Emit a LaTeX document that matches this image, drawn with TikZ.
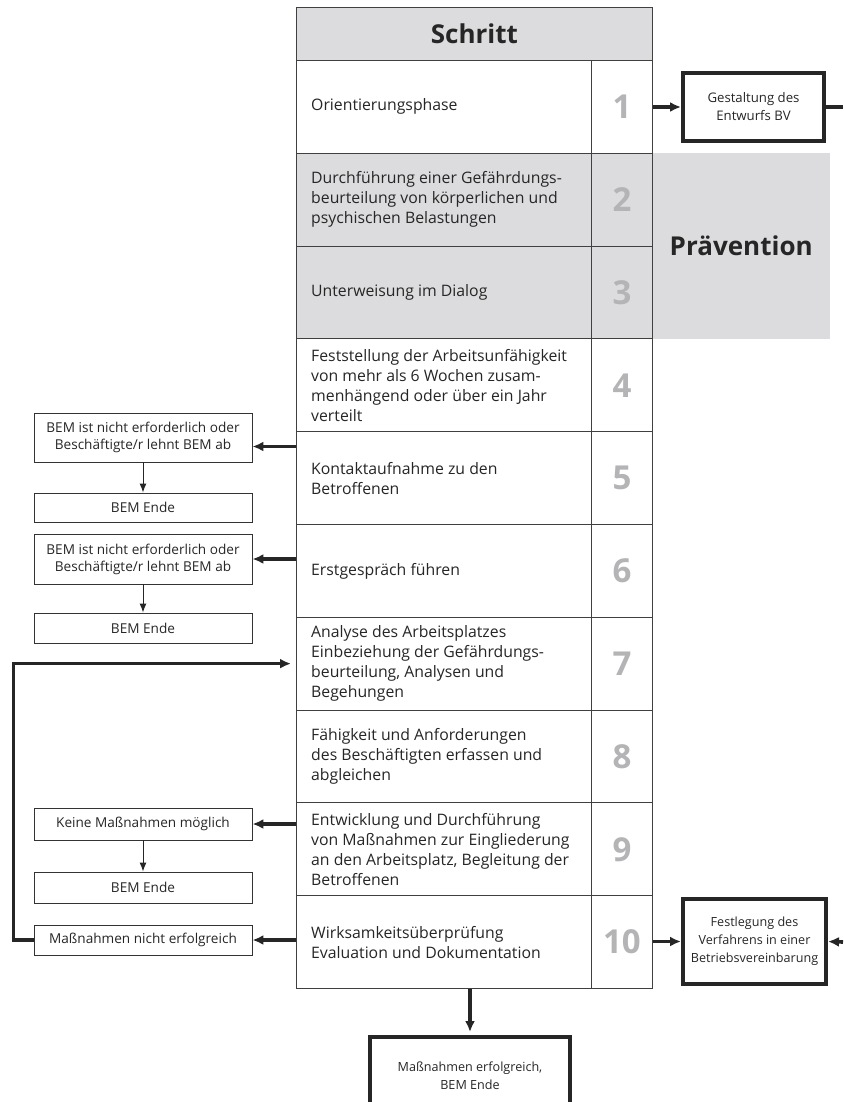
\documentclass[tikz,border=0pt]{standalone}
\usepackage{fontspec}
\setmainfont{Open Sans}
\usetikzlibrary{arrows.meta,positioning,calc}
\definecolor{kasten}{HTML}{DCDCDE}
\definecolor{ziffer}{HTML}{B4B4B6}

\begin{document}
\begin{tikzpicture}[
          x=1pt, y=-1pt,
          zelle/.style={draw=black!75, line width=0.9pt, minimum width=295pt, minimum height=92.8pt,
                        anchor=north west, inner sep=0pt},
          nummer/.style={draw=black!75, line width=0.9pt, minimum width=61pt, minimum height=92.8pt,
                         anchor=north west, inner sep=0pt, text=ziffer, font=\fontsize{33}{33}\selectfont\bfseries},
          txt/.style={align=left, inner sep=0pt, text=black!85, font=\fontsize{15.8}{20}\selectfont},
          seite/.style={draw=black!80, line width=0.9pt, minimum width=218pt, align=center, inner sep=2pt,
                        text=black!85, font=\fontsize{13.6}{17}\selectfont},
          dick/.style={draw=black!85, line width=4pt, align=center, text=black!85, font=\fontsize{12.6}{18}\selectfont},
          pf/.style={-{Latex[length=11pt,width=10pt]}, line width=3.6pt, draw=black!85},
          dpf/.style={-{Latex[length=9pt,width=7pt]}, line width=1pt, draw=black!85}
        ]
        \useasboundingbox (0,0) rectangle (843,1102);
        \clip (0,0) rectangle (843,1102);
        \node[fill=kasten, minimum width=178pt, minimum height=186pt, anchor=north west, inner sep=0pt,
              text=black!85, font=\fontsize{26}{26}\selectfont\bfseries] (praev) at (652,153) {Prävention};
        \node[zelle, fill=kasten, minimum width=356pt, minimum height=53pt, text=black!85,
              font=\fontsize{26}{26}\selectfont\bfseries] (kopf) at (296,7) {Schritt};
        \foreach \i/\f in {1/white,2/kasten,3/kasten,4/white,5/white,6/white,7/white,8/white,9/white,10/white} {
          \node[zelle, fill=\f] (z\i) at (296,{60+(\i-1)*92.8}) {};
          \node[nummer, fill=\f] (n\i) at (591,{60+(\i-1)*92.8}) {\i};
        }
        \node[txt, right=15pt of z1.west] (t1) {Orientierungsphase};
        \node[txt, right=15pt of z2.west] (t2) {Durchführung einer Gefährdungs-\\beurteilung von körperlichen und\\psychischen Belastungen};
        \node[txt, right=15pt of z3.west] (t3) {Unterweisung im Dialog};
        \node[txt, right=15pt of z4.west] (t4) {Feststellung der Arbeitsunfähigkeit\\von mehr als 6 Wochen zusam-\\menhängend oder über ein Jahr\\verteilt};
        \node[txt, right=15pt of z5.west] (t5) {Kontaktaufnahme zu den\\Betroffenen};
        \node[txt, right=15pt of z6.west] (t6) {Erstgespräch führen};
        \node[txt, right=15pt of z7.west] (t7) {Analyse des Arbeitsplatzes\\Einbeziehung der Gefährdungs-\\beurteilung, Analysen und\\Begehungen};
        \node[txt, right=15pt of z8.west] (t8) {Fähigkeit und Anforderungen\\des Beschäftigten erfassen und\\abgleichen};
        \node[txt, right=15pt of z9.west] (t9) {Entwicklung und Durchführung\\von Maßnahmen zur Eingliederung\\an den Arbeitsplatz, Begleitung der\\Betroffenen};
        \node[txt, right=15pt of z10.west] (t10) {Wirksamkeitsüberprüfung\\Evaluation und Dokumentation};
        \node[seite, minimum height=49pt] (a5) at (143,437.5) {BEM ist nicht erforderlich oder\\Beschäftigte/r lehnt BEM ab};
        \node[seite, minimum height=29pt] (e5) at (143,507.5) {BEM Ende};
        \node[seite, minimum height=50pt] (a6) at (143,559) {BEM ist nicht erforderlich oder\\Beschäftigte/r lehnt BEM ab};
        \node[seite, minimum height=30pt] (e6) at (143,628) {BEM Ende};
        \node[seite, minimum height=32pt] (k9) at (143,824) {Keine Maßnahmen möglich};
        \node[seite, minimum height=31pt] (e9) at (143,887.5) {BEM Ende};
        \node[seite, minimum height=30pt] (m10) at (143,940) {Maßnahmen nicht erfolgreich};
        \node[dick, minimum width=141pt, minimum height=68pt, font=\fontsize{13.2}{18}\selectfont] (bv) at (753.5,107) {Gestaltung des\\Entwurfs BV};
        \node[dick, minimum width=143pt, minimum height=85pt] (vf) at (754.5,941.5) {Festlegung des\\Verfahrens in einer\\Betriebsvereinbarung};
        \node[dick, minimum width=200pt, minimum height=78pt, anchor=north] (ende) at (470,1035) {Maßnahmen erfolgreich,\\BEM Ende};
        \coordinate (rechts1) at (843,107);
        \coordinate (rechts2) at (843,942);
        \draw[pf] (n1.east |- bv.west) -- (bv.west);
        \draw[line width=3.6pt, draw=black!85] (bv.east) -- (rechts1);
        \draw[pf] (n10.east |- vf.west) -- (vf.west);
        \draw[pf] (rechts2) -- (vf.east);
        \draw[pf] ([yshift=-9pt]a5.east -| z5.west) -- ([yshift=-9pt]a5.east);
        \draw[pf] (a6.east -| z6.west) -- (a6.east);
        \draw[pf] (k9.east -| z9.west) -- (k9.east);
        \draw[pf] (m10.east -| z10.west) -- (m10.east);
        \draw[dpf] (a5) -- (e5);
        \draw[dpf] (a6) -- (e6);
        \draw[dpf] (k9) -- (e9);
        \draw[pf, shorten >=5pt] (m10.west) -- ++(-20,0) |- (z7.west);
        \draw[pf, shorten >=3pt] (ende.north |- z10.south) -- (ende.north);
      \end{tikzpicture}
\end{document}
